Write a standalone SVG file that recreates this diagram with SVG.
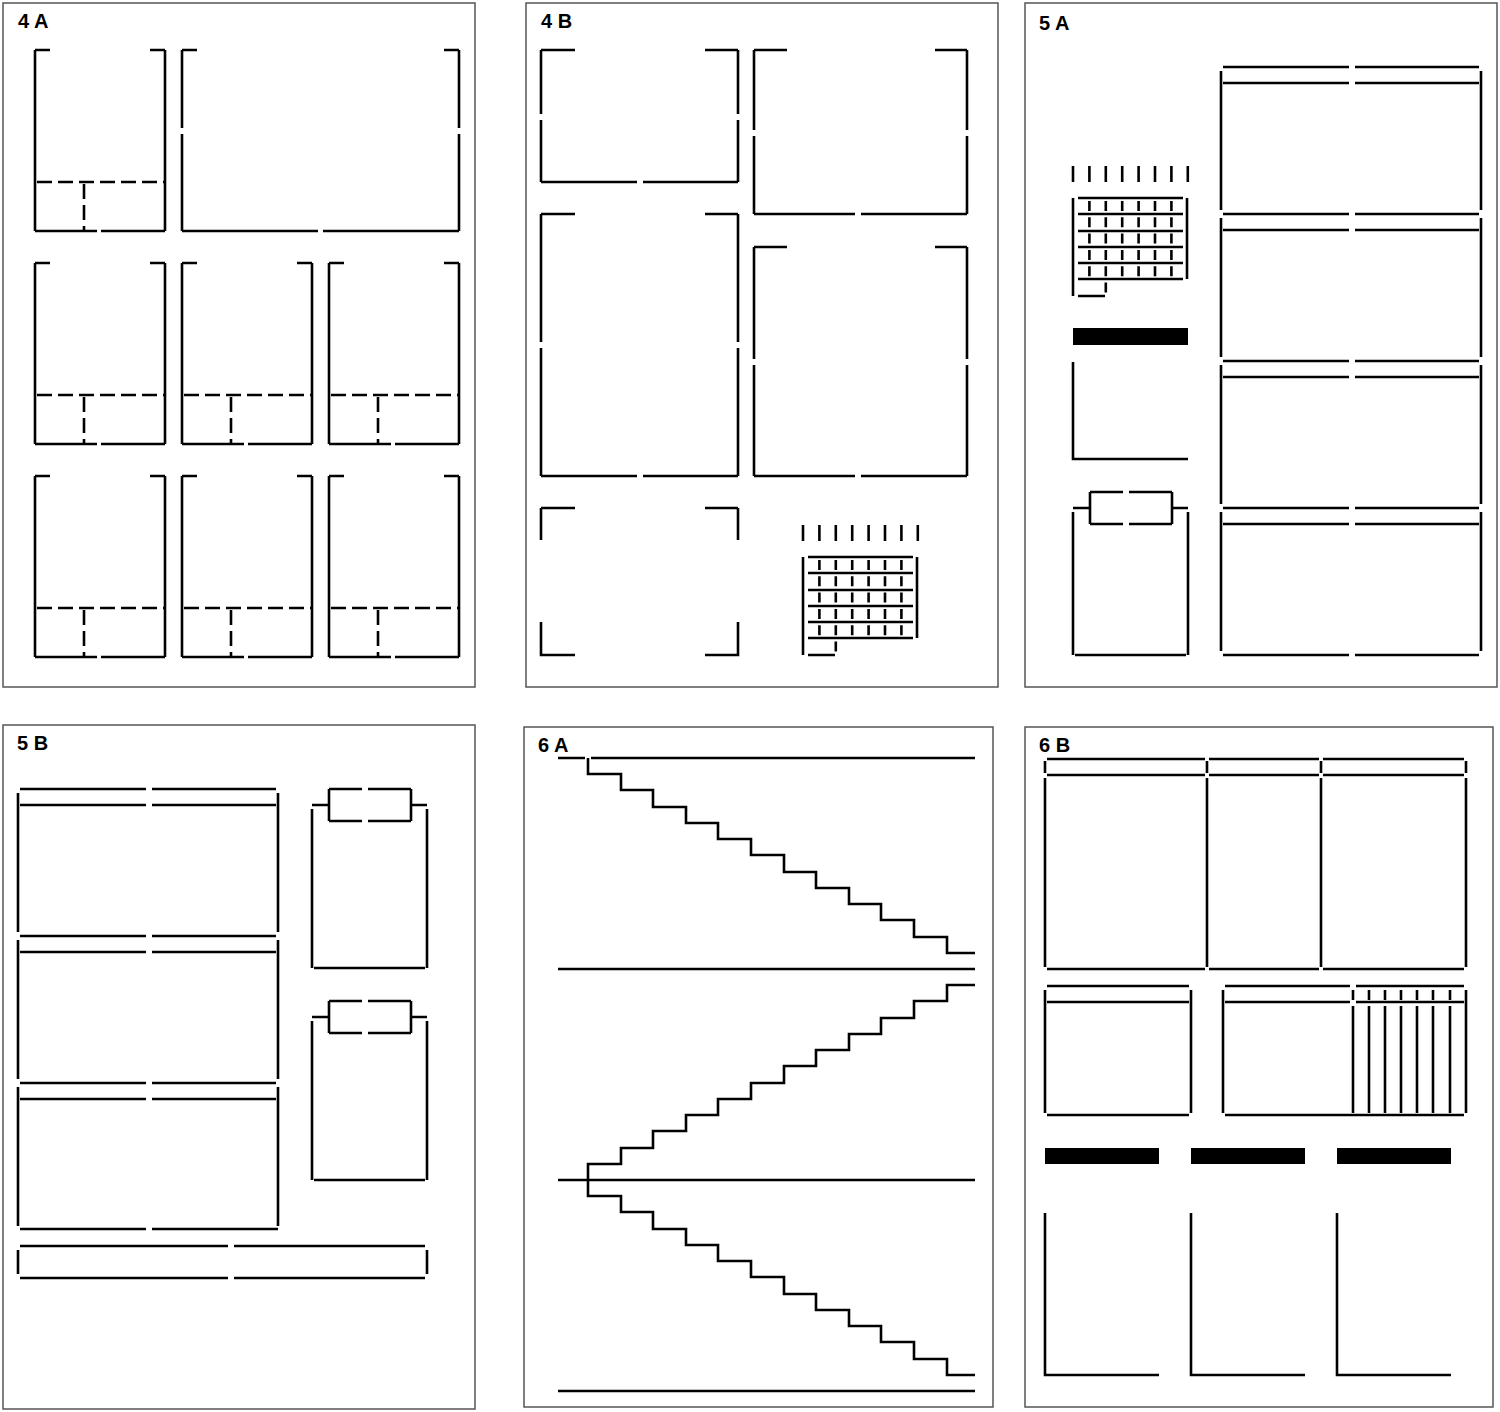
<svg xmlns="http://www.w3.org/2000/svg" xmlns:xlink="http://www.w3.org/1999/xlink" width="1500" height="1412" viewBox="0 0 1500 1412">
<style>
.frame{fill:#fff;stroke:#555;stroke-width:1.5}
.ln{fill:none;stroke:#000;stroke-width:2.6}
.dash{fill:none;stroke:#000;stroke-width:2.6;stroke-dasharray:15 6}
.bar{fill:#000}
.lbl{font-family:"Liberation Sans",Arial,sans-serif;font-weight:bold;font-size:20px;fill:#000}
</style>
<defs>
<symbol id="card" overflow="visible">
<path class="ln" d="M0,0H15M115,0H130M0,0V181M130,0V181M0,181H62M66,181H130"/>
<path class="dash" d="M2,132H130M49,134V181"/>
</symbol>
<symbol id="cal" overflow="visible">
<path class="ln" d="M0,0V16M16.4,0V16M32.8,0V16M49.2,0V16M65.6,0V16M82,0V16M98.4,0V16M114.8,0V16"/>
<path class="ln" d="M5,32H110M5,48H110M5,65H110M5,81H110M5,97H110M5,113H110M0,32V130M114,32V113M5,130H32"/>
<path class="ln" stroke-dasharray="10 6.3" d="M16.4,35V113M32.8,35V130M49.2,35V113M65.6,35V113M82,35V113M98.4,35V113"/>
</symbol>
<symbol id="clip" overflow="visible">
<path class="ln" d="M0,16H17M99,16H115M0,20V163M115,20V163M2,163H113M17,0H50M56,0H99M17,0V32M99,0V32M17,32H50M56,32H99"/>
</symbol>
<symbol id="clipTall" overflow="visible">
<path class="ln" d="M0,16H17M99,16H115M0,20V179M115,20V179M2,179H113M17,0H50M56,0H99M17,0V32M99,0V32M17,32H50M56,32H99"/>
</symbol>
<symbol id="listrow" overflow="visible">
<path class="ln" d="M2,0H128M134,0H258M2,16H128M134,16H258M0,4V143M260,4V143"/>
</symbol>
<path id="stairs" class="ln" d="M588 758V774H621V790H653V807H686V823H718V839H751V855H784V872H816V888H849V904H881V920H914V937H947V953H975"/>
</defs>

<g id="panel-4A">
<rect class="frame" x="3" y="3" width="472" height="684"/>
<text class="lbl" x="18" y="28">4 A</text>
<use xlink:href="#card" x="35" y="50"/>
<path class="ln" d="M182,50H197M444,50H459M182,50V128M182,134V231M459,50V128M459,134V231M182,231H318M323,231H459"/>
<use xlink:href="#card" x="35" y="263"/>
<use xlink:href="#card" x="182" y="263"/>
<use xlink:href="#card" x="329" y="263"/>
<use xlink:href="#card" x="35" y="476"/>
<use xlink:href="#card" x="182" y="476"/>
<use xlink:href="#card" x="329" y="476"/>
</g>

<g id="panel-4B">
<rect class="frame" x="526" y="3" width="472" height="684"/>
<text class="lbl" x="541" y="28">4 B</text>
<path class="ln" d="M541,50H575M705,50H738M541,50V114M541,120V182M738,50V114M738,120V182M541,182H637M643,182H738"/>
<path class="ln" d="M754,50H787M935,50H967M754,50V130M754,136V214M967,50V130M967,136V214M754,214H855M861,214H967"/>
<path class="ln" d="M541,214H575M705,214H738M541,214V342M541,348V476M738,214V342M738,348V476M541,476H637M643,476H738"/>
<path class="ln" d="M754,247H787M935,247H967M754,247V359M754,365V476M967,247V359M967,365V476M754,476H855M861,476H967"/>
<path class="ln" d="M541,508H575M705,508H738M541,508V540M738,508V540M541,622V655H575M738,622V655H705"/>
<use xlink:href="#cal" x="803" y="525"/>
</g>

<g id="panel-5A">
<rect class="frame" x="1025" y="3" width="472" height="684"/>
<text class="lbl" x="1039" y="30">5 A</text>
<use xlink:href="#cal" x="1073" y="166"/>
<rect class="bar" x="1073" y="328" width="115" height="17"/>
<path class="ln" d="M1073,362V459H1188"/>
<use xlink:href="#clip" x="1073" y="492"/>
<use xlink:href="#listrow" x="1221" y="67"/>
<use xlink:href="#listrow" x="1221" y="214"/>
<use xlink:href="#listrow" x="1221" y="361"/>
<use xlink:href="#listrow" x="1221" y="508"/>
<path class="ln" d="M1223,655H1349M1355,655H1479"/>
</g>

<g id="panel-5B">
<rect class="frame" x="3" y="725" width="472" height="684"/>
<text class="lbl" x="17" y="750">5 B</text>
<use xlink:href="#listrow" x="18" y="789"/>
<use xlink:href="#listrow" x="18" y="936"/>
<use xlink:href="#listrow" x="18" y="1083"/>
<path class="ln" d="M20,1229H146M152,1229H278"/>
<use xlink:href="#clipTall" x="312" y="789"/>
<use xlink:href="#clipTall" x="312" y="1001"/>
<path class="ln" d="M20,1246H228M234,1246H425M20,1278H228M234,1278H425M18,1250V1274M427,1250V1274"/>
</g>

<g id="panel-6A">
<rect class="frame" x="524" y="727" width="469" height="680"/>
<text class="lbl" x="538" y="752">6 A</text>
<path class="ln" d="M558,758H585M591,758H975M558,969H975M558,1180H975M558,1391H975"/>
<use xlink:href="#stairs"/>
<use xlink:href="#stairs" transform="translate(0,1938) scale(1,-1)"/>
<use xlink:href="#stairs" transform="translate(0,422)"/>
</g>

<g id="panel-6B">
<rect class="frame" x="1025" y="727" width="468" height="680"/>
<text class="lbl" x="1039" y="752">6 B</text>
<path class="ln" d="M1047,759H1205M1209,759H1319M1323,759H1464M1047,775H1205M1209,775H1319M1323,775H1464M1047,969H1205M1209,969H1319M1323,969H1464"/>
<path class="ln" d="M1045,761V773M1207,761V773M1321,761V773M1466,761V773M1045,778V967M1207,778V967M1321,778V967M1466,778V967"/>
<path class="ln" d="M1047,986H1189M1047,1002H1189M1047,1115H1189M1045,990V1113M1191,990V1113"/>
<path class="ln" d="M1225,986H1350M1356,986H1464M1225,1002H1350M1356,1002H1464M1225,1115H1464M1223,990V1113M1466,990V1113M1353,990V1000M1353,1006V1113"/>
<path class="ln" d="M1369,990V1000M1385,990V1000M1401,990V1000M1417,990V1000M1433,990V1000M1450,990V1000M1369,1006V1113M1385,1006V1113M1401,1006V1113M1417,1006V1113M1433,1006V1113M1450,1006V1113"/>
<rect class="bar" x="1045" y="1148" width="114" height="16"/>
<rect class="bar" x="1191" y="1148" width="114" height="16"/>
<rect class="bar" x="1337" y="1148" width="114" height="16"/>
<path class="ln" d="M1045,1213V1375H1159M1191,1213V1375H1305M1337,1213V1375H1451"/>
</g>
</svg>
